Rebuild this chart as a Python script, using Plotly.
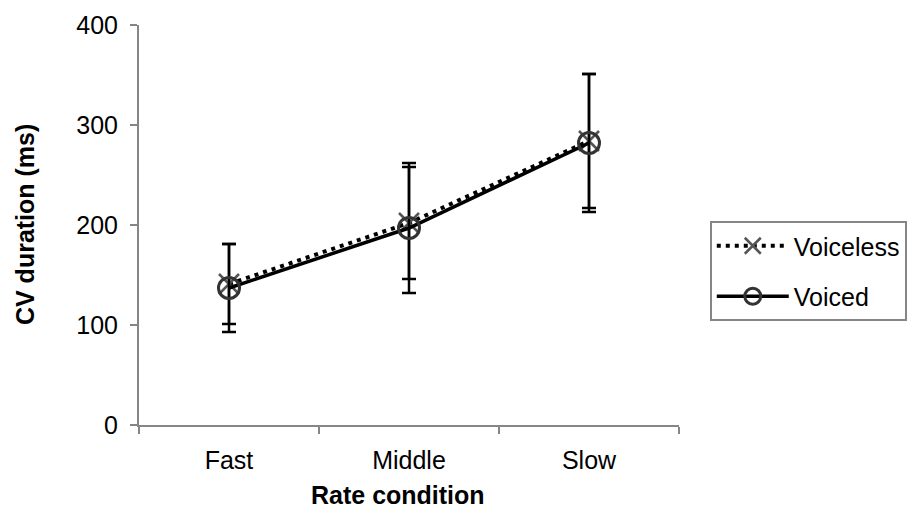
import plotly.graph_objects as go

categories = ["Fast", "Middle", "Slow"]
voiceless_vals = [141, 202, 284]
voiceless_err = [40, 56, 67]
voiced_vals = [137, 197, 282]
voiced_err = [44, 65, 69]
y_ticks = [0, 100, 200, 300, 400]

FONT = "Liberation Sans, Arial, sans-serif"
AXIS_GRAY = "#868686"

fig = go.Figure()

fig.add_trace(go.Scatter(
    x=categories, y=voiceless_vals, name="Voiceless", mode="lines+markers",
    legendgroup="a",
    line=dict(color="black", width=4, dash="4px,5px"),
    marker=dict(symbol="x-thin-open", size=20, color="#555555",
                line=dict(color="#555555", width=2.5)),
    error_y=dict(type="data", array=voiceless_err, visible=True,
                 color="black", thickness=2.5, width=7),
))
fig.add_trace(go.Scatter(
    x=categories, y=voiced_vals, name="Voiced", mode="lines+markers",
    legendgroup="b",
    line=dict(color="black", width=3.5),
    marker=dict(symbol="circle-open", size=21, color="#333333",
                line=dict(color="#333333", width=3)),
    error_y=dict(type="data", array=voiced_err, visible=True,
                 color="black", thickness=2.5, width=7),
))

fig.update_layout(
    width=911, height=510,
    margin=dict(l=139, r=232, t=25, b=85, autoexpand=False),
    paper_bgcolor="white", plot_bgcolor="white",
    font=dict(family=FONT, size=25, color="black"),
    showlegend=True,
    legend=dict(
        x=1.057, y=0.51, xanchor="left", yanchor="top",
        bordercolor=AXIS_GRAY, borderwidth=2,
        font=dict(size=25, family=FONT),
        itemwidth=72, tracegroupgap=15,
        bgcolor="white",
    ),
    xaxis=dict(
        type="category", categoryorder="array", categoryarray=categories,
        range=[-0.5, 2.5],
        showline=True, linecolor=AXIS_GRAY, linewidth=2,
        ticks="outside", tickson="boundaries", ticklen=7, tickwidth=2,
        tickcolor=AXIS_GRAY, showgrid=False, zeroline=False,
        tickfont=dict(size=25, family=FONT),
        ticklabelstandoff=12,
    ),
    yaxis=dict(
        range=[0, 400], tickvals=y_ticks,
        showline=True, linecolor=AXIS_GRAY, linewidth=2,
        ticks="outside", ticklen=7, tickwidth=2, tickcolor=AXIS_GRAY,
        showgrid=False, zeroline=False,
        tickfont=dict(size=25, family=FONT),
        ticklabelstandoff=7,
    ),
    annotations=[
        dict(text="<b>Rate condition</b>", xref="paper", yref="paper",
             x=0.4796, y=-0.175, xanchor="center", yanchor="middle",
             showarrow=False, font=dict(size=25, family=FONT)),
        dict(text="<b>CV duration (ms)</b>", xref="paper", yref="paper",
             x=-0.211, y=0.5, xanchor="center", yanchor="middle",
             textangle=-90, showarrow=False, font=dict(size=25, family=FONT)),
    ],
)

fig.write_html(
    "out.html",
    config={"displayModeBar": False},
    post_script="document.body.style.margin='0';document.body.style.padding='0';",
)
